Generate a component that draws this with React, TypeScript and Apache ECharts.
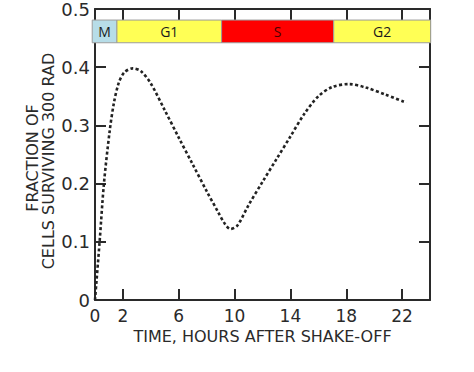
import React, { useEffect, useRef } from "react";
import * as echarts from "echarts";

// Survival curve (hours after shake-off, fraction surviving 300 rad)
const hours = [0, 0.33, 0.64, 1.05, 1.35, 1.7, 2.1, 2.7, 3.3, 4.0, 5.0, 6.0, 7.0, 8.0, 8.8, 9.3, 9.7, 10.2, 11.0, 12.0, 13.0, 14.0, 15.0, 16.0, 17.0, 18.2, 19.4, 20.8, 22.3];
const fraction = [0, 0.1, 0.2, 0.29, 0.338, 0.373, 0.391, 0.398, 0.393, 0.372, 0.326, 0.279, 0.233, 0.187, 0.152, 0.131, 0.122, 0.128, 0.163, 0.203, 0.242, 0.281, 0.32, 0.35, 0.366, 0.371, 0.365, 0.353, 0.339];

// Cell-cycle phases
const phaseNames = ["M", "G1", "S", "G2"];
const phaseStart = [-0.2, 1.57, 9.07, 17.1];
const phaseEnd = [1.57, 9.07, 17.1, 24.05];
const phaseColors = ["#b7dde8", "#ffff55", "#ff0000", "#ffff55"];

const xTickValues = [2, 6, 10, 14, 18, 22];
const xLabelValues = [0, 2, 6, 10, 14, 18, 22];
const yTickValues = [0.1, 0.2, 0.3, 0.4];
const yLabelValues = [0, 0.1, 0.2, 0.3, 0.4, 0.5];

const BAR_LOW = 0.442;
const BAR_HIGH = 0.481;

const INK = "#2a2a2a";
const FONT = "DejaVu Sans";

export default function App() {
  const ref = useRef<HTMLDivElement>(null);
  useEffect(() => {
    if (!ref.current) return;
    const chart = echarts.init(ref.current, null, { renderer: "svg" });
    const axisLine = { show: true, onZero: false, lineStyle: { color: INK, width: 2 } };
    const tick = { show: true, inside: true, length: 11, lineStyle: { color: INK, width: 2 } };
    chart.setOption({
      animation: false,
      backgroundColor: "#ffffff",
      grid: { left: 95, right: 44, top: 9, bottom: 72, containLabel: false },
      xAxis: [
        {
          type: "value",
          min: 0,
          max: 24,
          interval: 2,
          position: "bottom",
          axisLine,
          axisTick: { ...tick, customValues: xTickValues },
          splitLine: { show: false },
          axisLabel: {
            customValues: xLabelValues,
            color: INK,
            fontFamily: FONT,
            fontSize: 17,
            margin: 7,
          },
          name: "TIME, HOURS AFTER SHAKE-OFF",
          nameLocation: "middle",
          nameGap: 28,
          nameTextStyle: { color: INK, fontFamily: FONT, fontSize: 16 },
        },
        {
          type: "value",
          min: 0,
          max: 24,
          interval: 2,
          position: "top",
          axisLine,
          axisTick: { ...tick, customValues: xTickValues },
          splitLine: { show: false },
          axisLabel: { show: false },
        },
      ],
      yAxis: [
        {
          type: "value",
          min: 0,
          max: 0.5,
          interval: 0.1,
          position: "left",
          axisLine,
          axisTick: { ...tick, customValues: yTickValues },
          splitLine: { show: false },
          axisLabel: {
            customValues: yLabelValues,
            color: INK,
            fontFamily: FONT,
            fontSize: 18,
            margin: 5,
            formatter: (v: number) => (v === 0 ? "0" : v.toFixed(1)),
          },
        },
        {
          type: "value",
          min: 0,
          max: 0.5,
          interval: 0.1,
          position: "right",
          axisLine,
          axisTick: { ...tick, customValues: yTickValues },
          splitLine: { show: false },
          axisLabel: { show: false },
        },
      ],
      graphic: [
        {
          type: "text",
          x: 32,
          y: 158,
          rotation: Math.PI / 2,
          style: {
            text: "FRACTION OF",
            fill: INK,
            font: `16px "${FONT}"`,
            align: "center",
            verticalAlign: "middle",
          },
        },
        {
          type: "text",
          x: 48,
          y: 161,
          rotation: Math.PI / 2,
          style: {
            text: "CELLS SURVIVING 300 RAD",
            fill: INK,
            font: `16px "${FONT}"`,
            align: "center",
            verticalAlign: "middle",
          },
        },
      ],
      series: [
        {
          type: "line",
          data: hours.map((h, i) => [h, fraction[i]]),
          smooth: 0.3,
          symbol: "none",
          lineStyle: { color: "#222", width: 2.6, type: [3, 2.4], cap: "butt" },
          z: 3,
        },
        {
          type: "custom",
          clip: false,
          z: 5,
          data: phaseNames.map((_, i) => [phaseStart[i], phaseEnd[i]]),
          encode: { x: [0, 1] },
          renderItem: (params: any, api: any) => {
            const i = params.dataIndex;
            const a = api.coord([api.value(0), BAR_HIGH]);
            const b = api.coord([api.value(1), BAR_LOW]);
            return {
              type: "group",
              children: [
                {
                  type: "rect",
                  shape: { x: a[0], y: a[1], width: b[0] - a[0], height: b[1] - a[1] },
                  style: { fill: phaseColors[i], stroke: "#9c9c9c", lineWidth: 1 },
                },
                {
                  type: "text",
                  style: {
                    text: phaseNames[i],
                    x: (a[0] + b[0]) / 2,
                    y: (a[1] + b[1]) / 2,
                    align: "center",
                    verticalAlign: "middle",
                    fill: i === 2 ? "#4a0000" : "#1a1a1a",
                    font: '14px "Open Sans"',
                  },
                },
              ],
            };
          },
        },
      ],
    });
    return () => chart.dispose();
  }, []);
  return (
    <div
      ref={ref}
      style={{ position: "absolute", left: 0, top: 0, width: 474, height: 372 }}
    />
  );
}
